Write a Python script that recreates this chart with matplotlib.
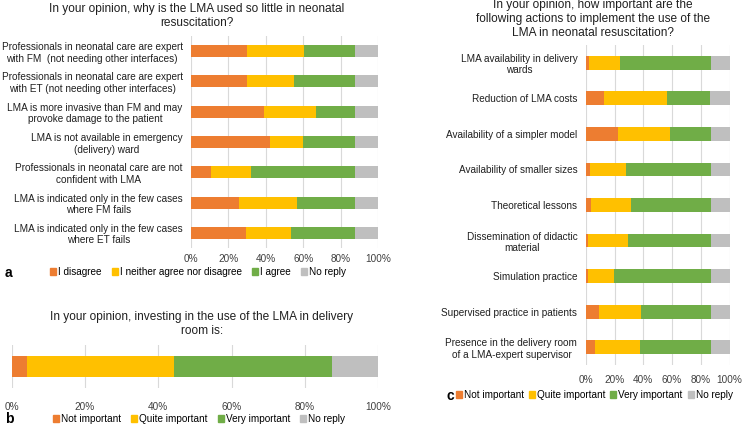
import numpy as np
import matplotlib
matplotlib.use('Agg')
from matplotlib import pyplot as plt
from matplotlib.patches import Patch

plt.rcParams['font.family'] = ['Liberation Sans', 'DejaVu Sans']

# цвета в стиле Excel
colors = ['#ED7D31', '#FFC000', '#70AD47', '#BFBFBF']

# панель a
a_labels = ['Professionals in neonatal care are expert\nwith FM  (not needing other interfaces)',
            'Professionals in neonatal care are expert\nwith ET (not needing other interfaces)',
            'LMA is more invasive than FM and may\nprovoke damage to the patient',
            'LMA is not available in emergency\n(delivery) ward',
            'Professionals in neonatal care are not\nconfident with LMA',
            'LMA is indicated only in the few cases\nwhere FM fails',
            'LMA is indicated only in the few cases\nwhere ET fails']
a_disagree = [29.8, 30.0, 39.1, 42.1, 10.8, 25.6, 29.5]
a_neither = [30.8, 25.1, 27.7, 17.6, 21.3, 31.2, 23.8]
a_agree = [27.0, 32.5, 20.8, 27.9, 55.5, 30.8, 34.3]
a_noreply = [12.4, 12.4, 12.4, 12.4, 12.4, 12.4, 12.4]
a_legend = ['I disagree', 'I neither agree nor disagree', 'I agree', 'No reply']

# панель b
b_values = [4.1, 40.2, 43.1, 12.6]
imp_legend = ['Not important', 'Quite important', 'Very important', 'No reply']

# панель c
c_labels = ['LMA availability in delivery\nwards', 'Reduction of LMA costs',
            'Availability of a simpler model', 'Availability of smaller sizes',
            'Theoretical lessons', 'Dissemination of didactic\nmaterial',
            'Simulation practice', 'Supervised practice in patients',
            'Presence in the delivery room\nof a LMA-expert supervisor']
c_not = [2.1, 12.7, 22.4, 3.0, 3.7, 1.6, 1.4, 9.3, 6.5]
c_quite = [21.7, 43.8, 36.4, 25.2, 27.8, 27.8, 18.5, 29.4, 31.5]
c_very = [63.4, 30.0, 28.2, 58.8, 55.7, 57.8, 67.3, 48.3, 49.0]
c_noreply = [12.8, 13.5, 13.0, 13.0, 12.8, 12.8, 12.8, 13.0, 13.0]

W, H = 742, 425
fig = plt.figure(figsize=(W / 100, H / 100), dpi=100)


def px_axes(x0, x1, y0, y1):
    return fig.add_axes([x0 / W, 1 - y1 / H, (x1 - x0) / W, (y1 - y0) / H])


def stacked(ax, series, labels, height):
    y = np.arange(len(series[0]))
    left = np.zeros(len(y))
    for s, c in zip(series, colors):
        ax.barh(y, s, left=left, color=c, height=height, zorder=3)
        left += np.array(s)
    ax.set_xlim(0, 100)
    ax.set_ylim(len(y) - 0.5, -0.5)
    ax.set_xticks(np.arange(0, 101, 20))
    ax.set_xticklabels([f'{v}%' for v in range(0, 101, 20)], fontsize=7.2, color='#404040')
    ax.set_yticks(y)
    ax.set_yticklabels(labels, fontsize=7.2, color='#202020')
    for t in ax.get_yticklabels():
        t.set_multialignment('center')
    ax.tick_params(length=0, pad=6)
    ax.tick_params(axis='x', pad=4)
    ax.grid(axis='x', color='#D9D9D9', lw=0.8, zorder=0)
    for sp in ax.spines.values():
        sp.set_visible(False)


def legend(names, x, y, spacing=1.0):
    handles = [Patch(color=c) for c in colors]
    fig.legend(handles, names, loc='center', bbox_to_anchor=(x / W, 1 - y / H), ncol=4,
               frameon=False, fontsize=7.2, handlelength=0.6, handleheight=0.6,
               handletextpad=0.2, columnspacing=spacing, borderaxespad=0)


# a
ax_a = px_axes(191, 378, 36, 248)
stacked(ax_a, [a_disagree, a_neither, a_agree, a_noreply], a_labels, 0.4)
fig.text(197 / W, 1 - 16 / H, 'In your opinion, why is the LMA used so little in neonatal\nresuscitation?',
         ha='center', va='center', fontsize=8.6, color='#202020', linespacing=1.15)
legend(a_legend, 198, 272)
fig.text(5 / W, 1 - 273 / H, 'a', fontsize=10, fontweight='bold', va='center')

# b
ax_b = px_axes(11.7, 378.3, 345, 388)
stacked(ax_b, [[v] for v in b_values], [''], 0.47)
ax_b.set_yticks([])
ax_b.tick_params(axis='x', pad=10)
fig.text(202 / W, 1 - 324 / H, 'In your opinion, investing in the use of the LMA in delivery\nroom is:',
         ha='center', va='center', fontsize=8.6, color='#202020', linespacing=1.15)
legend(imp_legend, 199, 419)
fig.text(5 / W, 1 - 419 / H, 'b', fontsize=10, fontweight='bold', va='center')

# c
ax_c = px_axes(585.7, 729.7, 45, 365)
stacked(ax_c, [c_not, c_quite, c_very, c_noreply], c_labels, 0.39)
ax_c.tick_params(axis='x', pad=7)
fig.text(593 / W, 1 - 19 / H, 'In your opinion, how important are the\nfollowing actions to implement the use of the\nLMA in neonatal resuscitation?',
         ha='center', va='center', fontsize=8.6, color='#202020', linespacing=1.2)
legend(imp_legend, 594, 395, spacing=0.5)
fig.text(446 / W, 1 - 396 / H, 'c', fontsize=10, fontweight='bold', va='center')

fig.savefig('out.png', dpi=100)
